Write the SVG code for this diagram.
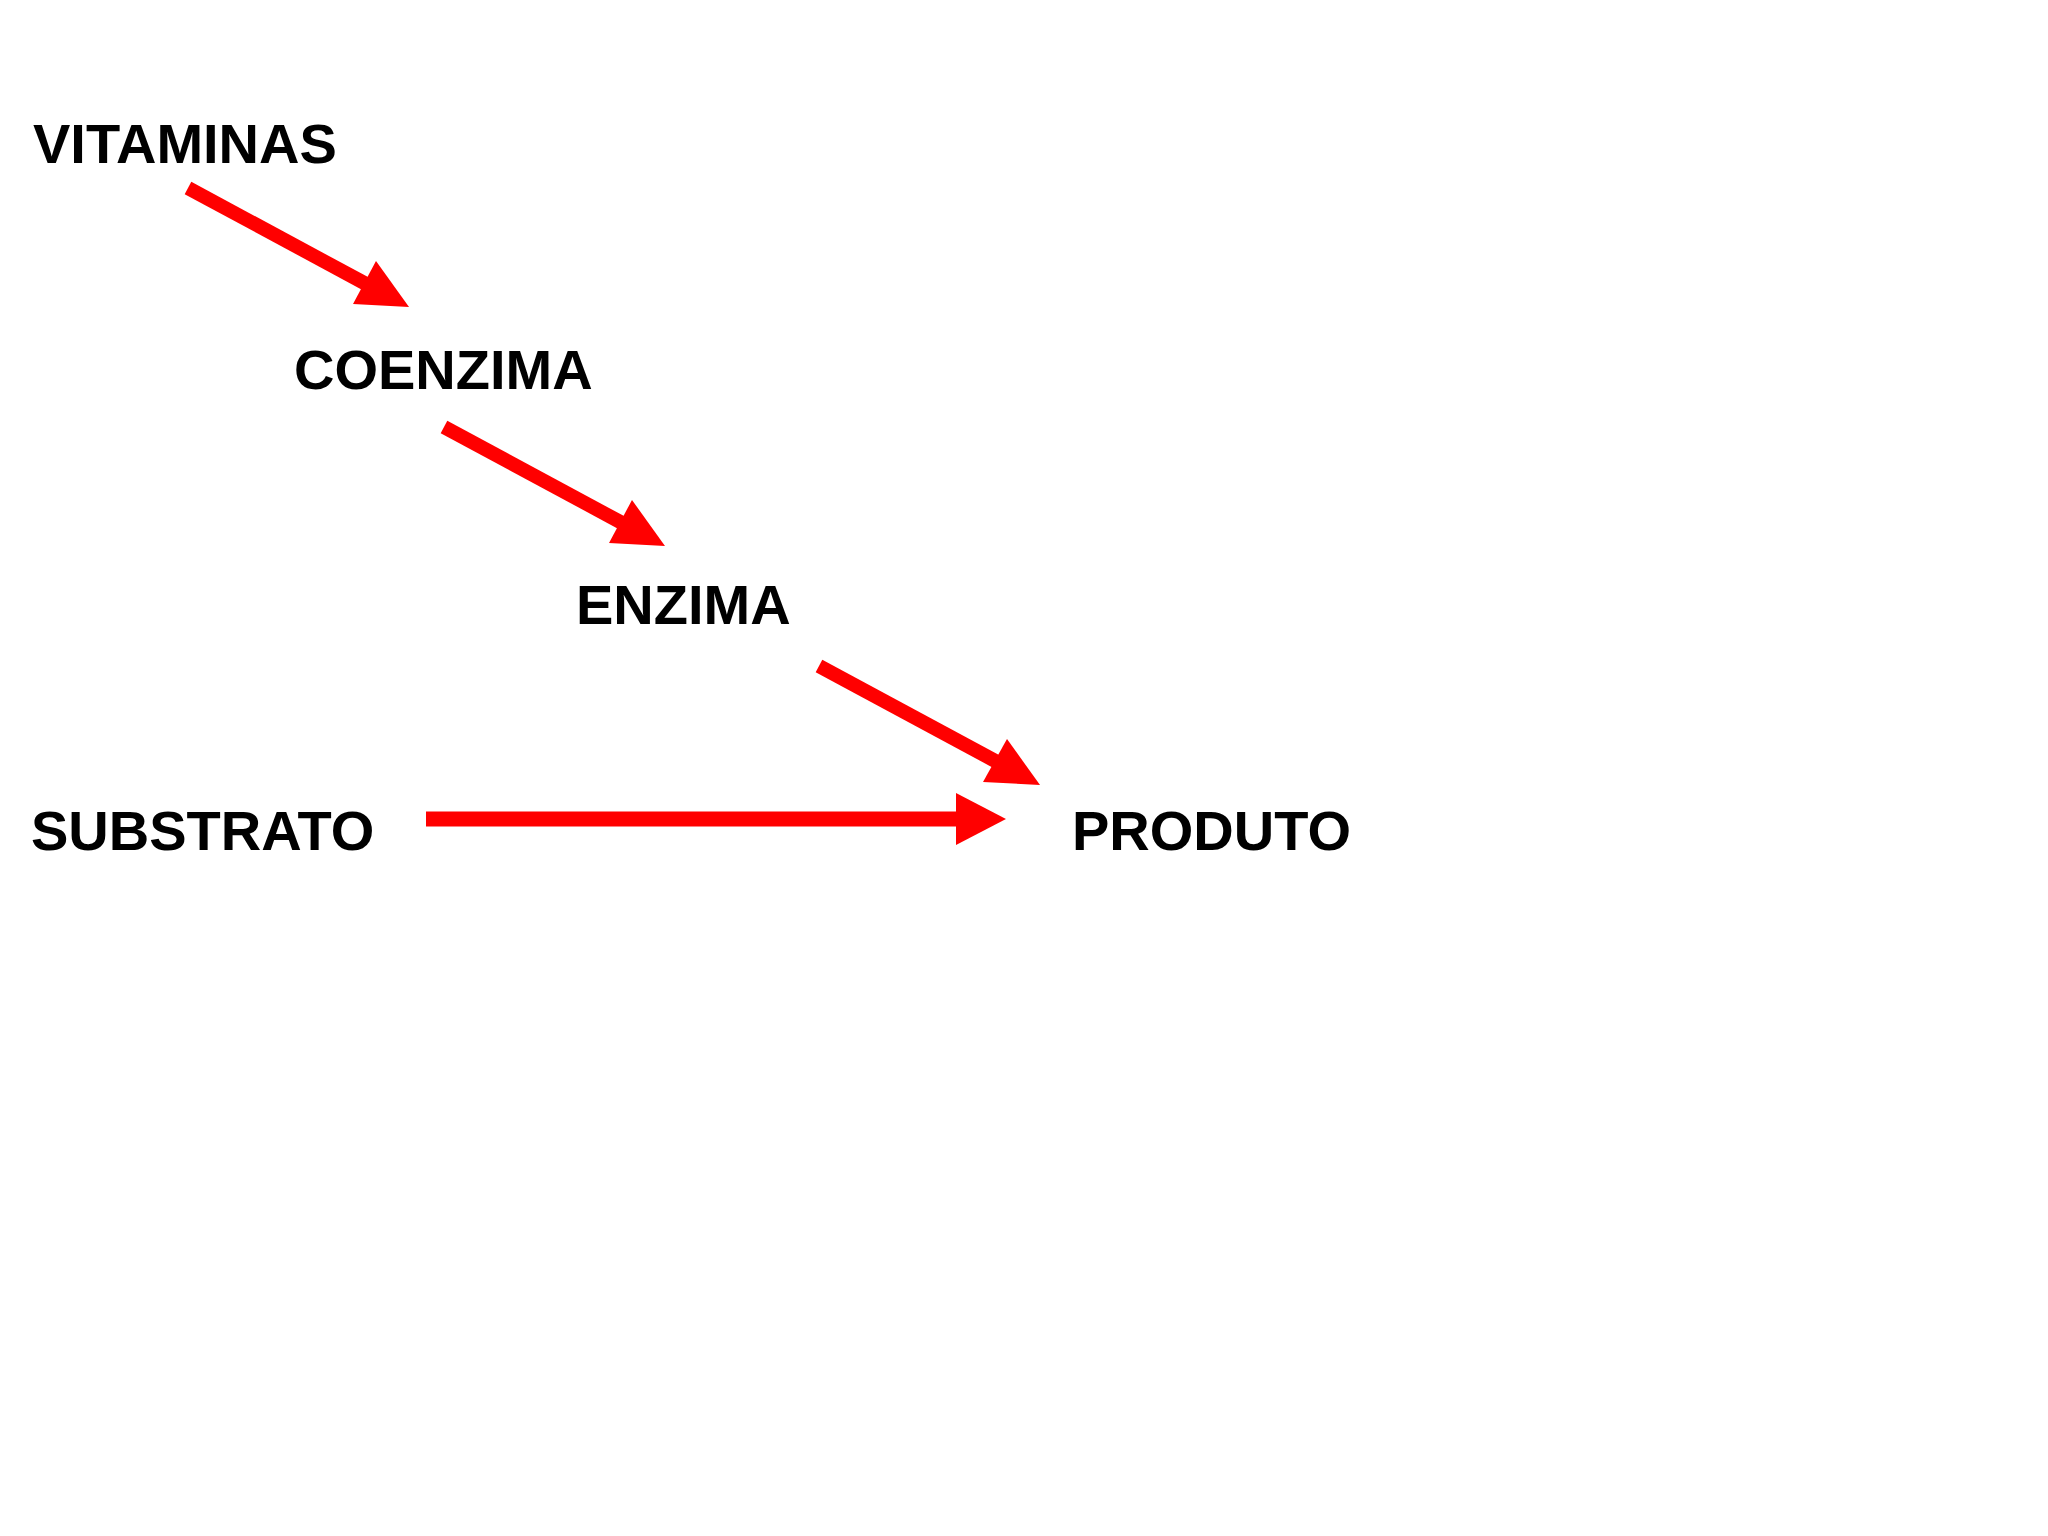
<svg xmlns="http://www.w3.org/2000/svg" width="2048" height="1536" viewBox="0 0 2048 1536">
<style>
text{font-family:"Liberation Sans",Arial,sans-serif;font-weight:bold;font-size:56px;fill:#000}
.s{stroke:#ff0000;stroke-width:14;fill:none}
.h{fill:#ff0000}
</style>
<rect width="2048" height="1536" fill="#fff"/>
<g id="vitaminas"><text x="33" y="163">VITAMINAS</text></g>
<g id="coenzima"><text x="294" y="389">COENZIMA</text></g>
<g id="enzima"><text x="576" y="624">ENZIMA</text></g>
<g id="substrato"><text x="31" y="850">SUBSTRATO</text></g>
<g id="produto"><text x="1072" y="850">PRODUTO</text></g>
<g id="connectors">
<line class="s" x1="188" y1="188" x2="368" y2="285"/>
<polygon class="h" points="376,261 409,307 353,304"/>
<line class="s" x1="444" y1="427" x2="624" y2="524"/>
<polygon class="h" points="632,500 665,546 609,543"/>
<line class="s" x1="819" y1="666" x2="999" y2="763"/>
<polygon class="h" points="1007,739 1040,785 983,782"/>
<line class="s" x1="426" y1="819" x2="960" y2="819" style="stroke-width:15"/>
<polygon class="h" points="956,793 1006,819 956,845"/>
</g>
</svg>
